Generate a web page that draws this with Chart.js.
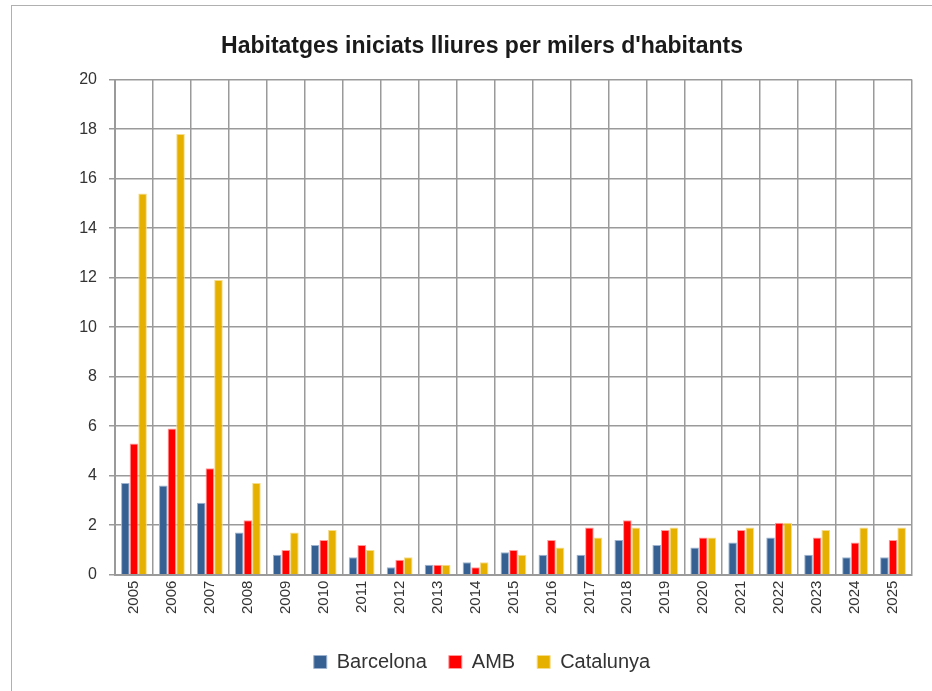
<!DOCTYPE html>
<html>
<head>
<meta charset="utf-8">
<script src="https://cdn.jsdelivr.net/npm/chart.js@4.4.1/dist/chart.umd.min.js"></script>
<style>
  body { margin: 0; background: #fff; overflow: hidden; }
  #wrap { position: relative; width: 932px; height: 691px; overflow: hidden; }
  #frame { position: absolute; left: 11px; top: 5px; width: 960px; height: 720px; border: 1px solid #b0b0b0; box-sizing: border-box; pointer-events: none; }
</style>
</head>
<body>
<div id="wrap">
  <canvas id="chart" width="964" height="691"></canvas>
  <div id="frame"></div>
</div>
<script>
// years on the x axis
const years = ['2005', '2006', '2007', '2008', '2009', '2010', '2011', '2012', '2013', '2014', '2015',
  '2016', '2017', '2018', '2019', '2020', '2021', '2022', '2023', '2024', '2025'];

// dwellings started per thousand inhabitants
const barcelona = [3.7, 3.6, 2.9, 1.7, 0.8, 1.2, 0.7, 0.3, 0.4, 0.5, 0.9, 0.8, 0.8, 1.4, 1.2, 1.1, 1.3, 1.5, 0.8, 0.7, 0.7];
const amb = [5.3, 5.9, 4.3, 2.2, 1.0, 1.4, 1.2, 0.6, 0.4, 0.3, 1.0, 1.4, 1.9, 2.2, 1.8, 1.5, 1.8, 2.1, 1.5, 1.3, 1.4];
const catalunya = [15.4, 17.8, 11.9, 3.7, 1.7, 1.8, 1.0, 0.7, 0.4, 0.5, 0.8, 1.1, 1.5, 1.9, 1.9, 1.5, 1.9, 2.1, 1.8, 1.9, 1.9];

const yTicks = [0, 2, 4, 6, 8, 10, 12, 14, 16, 18, 20];

const font = "'Liberation Sans', Arial, sans-serif";

const ctx = document.querySelector('#chart').getContext('2d');

new Chart(ctx, {
  type: 'bar',
  data: {
    labels: years,
    datasets: [
      { label: 'Barcelona', data: barcelona, backgroundColor: '#376092', borderColor: '#9db3cf', borderWidth: 1 },
      { label: 'AMB', data: amb, backgroundColor: '#ff0000', borderColor: '#ff9a9a', borderWidth: 1 },
      { label: 'Catalunya', data: catalunya, backgroundColor: '#e6b000', borderColor: '#f5dc8a', borderWidth: 1 }
    ]
  },
  options: {
    responsive: false,
    animation: false,
    // canvas is wider than the window so that title and legend centre on the cropped frame
    layout: { padding: { left: 52, right: 52, top: 0, bottom: 9 } },
    datasets: { bar: { categoryPercentage: 0.68, barPercentage: 1.0 } },
    plugins: {
      title: {
        display: true,
        text: "Habitatges iniciats lliures per milers d'habitants",
        color: '#1a1a1a',
        font: { family: font, size: 23, weight: 'bold' },
        padding: { top: 33, bottom: 19 }
      },
      legend: {
        position: 'bottom',
        labels: {
          color: '#333',
          font: { family: font, size: 20 },
          boxWidth: 13,
          boxHeight: 13,
          padding: 22,
          useBorderRadius: false
        }
      },
      tooltip: { enabled: false }
    },
    scales: {
      x: {
        afterFit: function(axis) { axis.height += 10; },
        grid: { color: '#9a9a9a', lineWidth: 1.5, offset: true, drawTicks: false },
        border: { color: '#9a9a9a', width: 2 },
        ticks: { color: '#333', font: { family: font, size: 15 }, minRotation: 90, maxRotation: 90, padding: 6 }
      },
      y: {
        min: 0,
        max: 20,
        afterBuildTicks: function(axis) {
          axis.ticks = yTicks.map(function(v) { return { value: v }; });
        },
        afterFit: function(axis) { axis.width = 63; },
        grid: { color: '#9a9a9a', lineWidth: 1.5, tickLength: 6 },
        border: { color: '#9a9a9a', width: 2 },
        ticks: { color: '#333', font: { family: font, size: 16 }, padding: 12 }
      }
    }
  }
});
</script>
</body>
</html>
